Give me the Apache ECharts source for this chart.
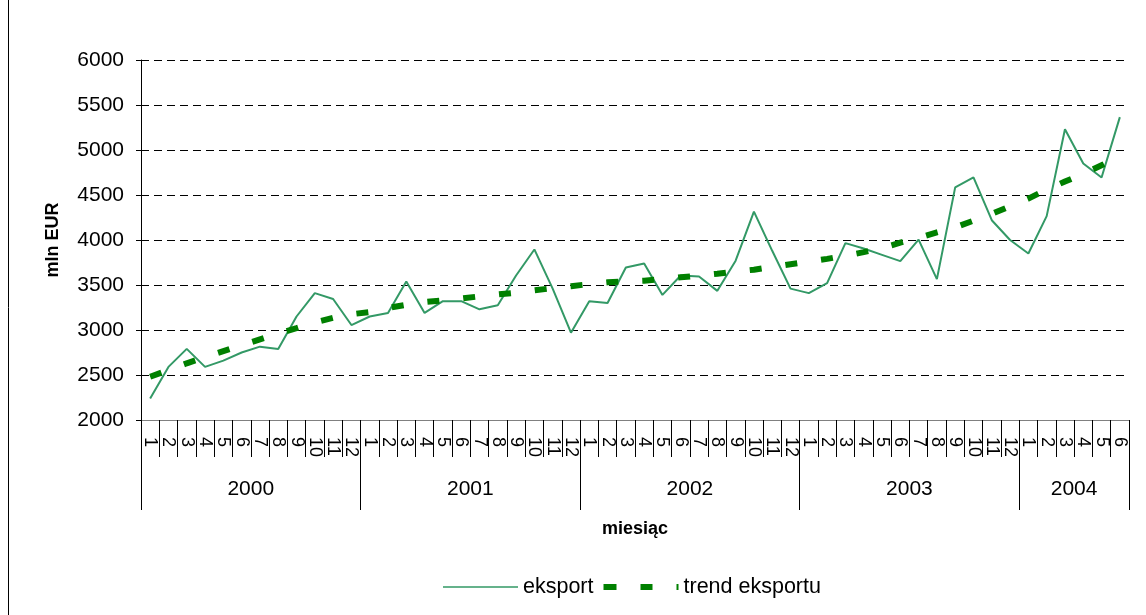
<!DOCTYPE html>
<html>
<head>
<meta charset="utf-8">
<script src="https://cdn.jsdelivr.net/npm/echarts@6/dist/echarts.min.js"></script>
<style>
  html, body { margin: 0; padding: 0; background: #fff; }
  #main { width: 1146px; height: 615px; }
</style>
</head>
<body>
<div id="main"></div>
<script>
// lata i liczba miesięcy w każdym roku
var years = ['2000', '2001', '2002', '2003', '2004'];
var monthsPerYear = [12, 12, 12, 12, 6];

// eksport, mln EUR (odczyt z wykresu)
var eksport = [
  2240, 2590, 2790, 2590, 2660, 2750, 2815, 2790, 3150, 3410, 3345, 3055,
  3150, 3190, 3540, 3190, 3320, 3320, 3230, 3275, 3605, 3895, 3460, 2970,
  3320, 3300, 3695, 3740, 3390, 3605, 3595, 3435, 3770, 4315, 3880, 3460,
  3410, 3520, 3965, 3905, 3835, 3765, 4005, 3565, 4585, 4695, 4220, 4000,
  3850, 4265, 5230, 4850, 4695, 5365
];

// trend eksportu (odczyt z wykresu)
var trend = [
  2480, 2555, 2630, 2700, 2765, 2830, 2895, 2960, 3020, 3085, 3135, 3175,
  3200, 3245, 3280, 3310, 3330, 3350, 3374, 3395, 3415, 3440, 3465, 3487,
  3510, 3530, 3540, 3548, 3565, 3585, 3605, 3625, 3650, 3670, 3700, 3730,
  3760, 3790, 3825, 3865, 3910, 3970, 4025, 4085, 4140, 4215, 4290, 4375,
  4460, 4560, 4650, 4735, 4830, 4933
];

var yTicks = [2000, 2500, 3000, 3500, 4000, 4500, 5000, 5500, 6000];

// kategorie: numery miesięcy
var months = [];
var yearBounds = [0];
var yearMids = [];
years.forEach(function (y, k) {
  for (var m = 1; m <= monthsPerYear[k]; m++) months.push(String(m));
  var start = yearBounds[yearBounds.length - 1];
  yearMids.push(start + monthsPerYear[k] / 2);
  yearBounds.push(start + monthsPerYear[k]);
});

var font = "'Liberation Sans', Arial, sans-serif";
var myChart = echarts.init(document.getElementById('main'));

// ikony legendy: linia ciągła i linia przerywana (niewidoczne punkty w rogach trzymają rozmiar)
var iconSolid = 'path://M0,0L0.01,0L0.01,0.01Z M0,2.2H75V3.8H0Z M74.99,6L75,6L75,5.99Z';
var iconDash = 'path://M0,0H13V6H0Z M37,0H49V6H37Z M73,0H75V6H73Z';

myChart.setOption({
  backgroundColor: '#fff',
  animation: false,
  grid: { left: 141, right: 17, top: 60, bottom: 195 },
  legend: {
    top: 571,
    left: 438,
    itemWidth: 75,
    itemHeight: 6,
    itemGap: 10,
    textStyle: { fontFamily: font, fontSize: 21.5, color: '#000' },
    data: [
      { name: 'eksport', icon: iconSolid, itemStyle: { color: '#339966' } },
      { name: 'trend eksportu', icon: iconDash, itemStyle: { color: '#008000' } }
    ]
  },
  xAxis: [
    {
      type: 'category',
      data: months,
      boundaryGap: true,
      axisLine: { lineStyle: { color: '#808080', width: 1 } },
      axisTick: { show: true, interval: 0, length: 37, lineStyle: { color: '#000', width: 1 } },
      axisLabel: {
        interval: 0, rotate: -90, margin: 17,
        fontFamily: font, fontSize: 18, color: '#000'
      },
      splitLine: { show: false }
    },
    {
      type: 'value',
      position: 'bottom',
      min: 0,
      max: yearBounds[yearBounds.length - 1],
      axisLine: { show: false },
      splitLine: { show: false },
      axisTick: {
        show: true, length: 90, customValues: yearBounds,
        lineStyle: { color: '#000' }
      },
      axisLabel: {
        customValues: yearMids, margin: 59,
        fontFamily: font, fontSize: 21, color: '#000',
        formatter: function (v) { return years[yearMids.indexOf(v)]; }
      },
      name: 'miesiąc',
      nameLocation: 'middle',
      nameGap: 100,
      nameTextStyle: { fontFamily: font, fontSize: 18, fontWeight: 'bold', color: '#000' }
    }
  ],
  yAxis: {
    type: 'value',
    min: yTicks[0],
    max: yTicks[yTicks.length - 1],
    interval: 500,
    axisLine: { show: true, lineStyle: { color: '#000' } },
    axisTick: { show: true, length: 5, lineStyle: { color: '#000' } },
    axisLabel: {
      margin: 17, fontFamily: font, fontSize: 21, color: '#000',
      formatter: function (v) { return String(v); }
    },
    splitLine: { lineStyle: { color: '#000', type: [8, 5], width: 1 } },
    name: 'mln EUR',
    nameLocation: 'middle',
    nameGap: 79,
    nameTextStyle: { fontFamily: font, fontSize: 18, fontWeight: 'bold', color: '#000' }
  },
  graphic: [
    { type: 'line', shape: { x1: 8.5, y1: 0, x2: 8.5, y2: 615 }, style: { stroke: '#000', lineWidth: 1 } }
  ],
  series: [
    {
      name: 'eksport',
      type: 'line',
      data: eksport,
      symbol: 'none',
      color: '#339966',
      lineStyle: { color: '#339966', width: 2 },
      z: 3
    },
    {
      name: 'trend eksportu',
      type: 'line',
      data: trend,
      symbol: 'none',
      color: '#008000',
      lineStyle: { color: '#008000', width: 6, type: [12, 24], cap: 'butt' },
      z: 4
    }
  ]
});
</script>
</body>
</html>
